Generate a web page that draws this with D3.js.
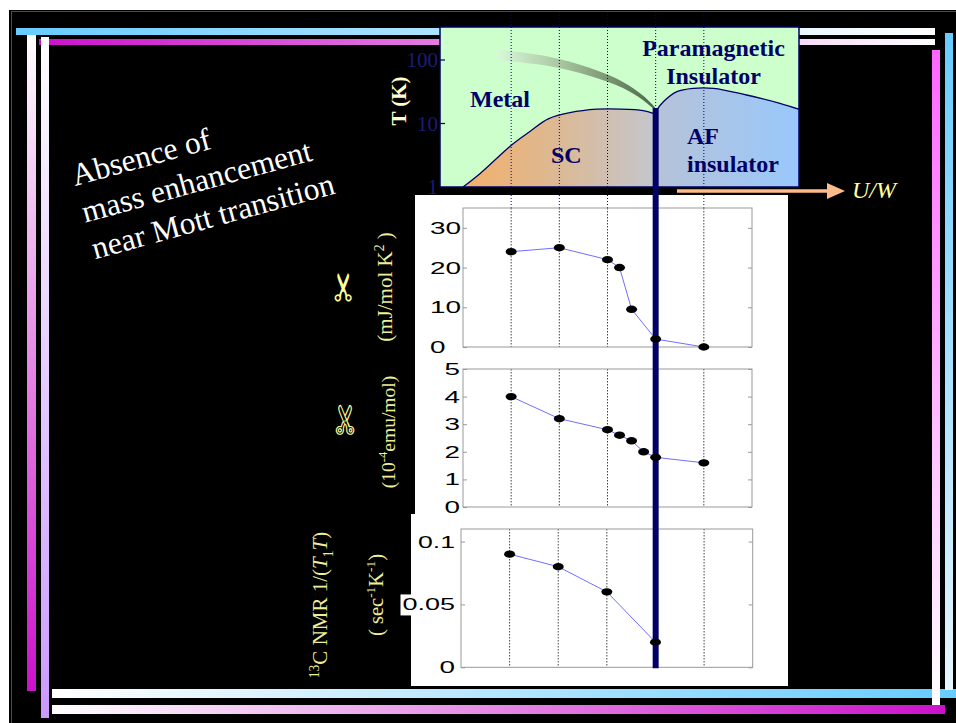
<!DOCTYPE html>
<html>
<head>
<meta charset="utf-8">
<script src="https://cdn.jsdelivr.net/npm/d3@7"></script>
<style>
  html, body { margin: 0; padding: 0; background: #fff; overflow: hidden; }
  svg { display: block; }
</style>
</head>
<body>
<svg id="chart" width="956" height="723"></svg>
<script>
// ---------------- data ----------------
// U/W positions of the measured samples (dotted guides) and the Mott transition
const gridX = [1, 2, 3, 4, 5];
const mottX = 4;

// phase diagram boundaries: x in U/W units, T in kelvin
const scX = [0, 0.35, 1.01, 1.39, 1.77, 2.22, 2.78, 3.26, 3.74, 3.95];
const scT = [1, 1.62, 4.6, 7.5, 11.8, 14.8, 16.8, 16.9, 16.0, 14.4];
const afX = [4.02, 4.16, 4.44, 4.78, 5.20, 5.89, 6.58, 6.98];
const afT = [16.3, 22.0, 31.7, 35.8, 35.8, 28.1, 20.8, 16.7];
const crossX = [0.71, 1.74, 2.64, 3.32, 3.74, 3.99];
const crossT = [120, 96.5, 64.7, 40.4, 25.2, 16.9];
const phaseTicks = [1, 10, 100];
const phaseTickLabels = ["1", "10", "100"];

// Sommerfeld coefficient (mJ/mol K^2)
const gammaX = [1, 2, 3, 3.25, 3.5, 4, 5];
const gammaY = [24, 25, 22, 20, 9.5, 2, 0];
const gammaTicks = [0, 10, 20, 30];
const gammaTickLabels = ["0", "10", "20", "30"];

// spin susceptibility (10^-4 emu/mol)
const chiX = [1, 2, 3, 3.25, 3.5, 3.75, 4, 5];
const chiY = [4.0, 3.2, 2.8, 2.6, 2.4, 2.0, 1.8, 1.6];
const chiTicks = [0, 1, 2, 3, 4, 5];
const chiTickLabels = ["0", "1", "2", "3", "4", "5"];

// 13C NMR relaxation 1/(T1 T) (sec^-1 K^-1)
const nmrX = [1, 2, 3, 4];
const nmrY = [0.09, 0.08, 0.06, 0.02];
const nmrTicks = [0, 0.05, 0.1];
const nmrTickLabels = ["0", "0.05", "0.1"];

// ---------------- drawing ----------------
const NAVY = "#000066";
const PALE = "#eeee99";
const svg = d3.select("#chart");
const defs = svg.append("defs");

function gradient(id, stops, x1, y1, x2, y2, user) {
  const g = defs.append("linearGradient").attr("id", id)
    .attr("x1", x1).attr("y1", y1).attr("x2", x2).attr("y2", y2);
  if (user) g.attr("gradientUnits", "userSpaceOnUse");
  stops.forEach(([o, c]) => g.append("stop").attr("offset", o).attr("stop-color", c));
  return `url(#${id})`;
}

// slide background and frame
svg.append("rect").attr("width", 956).attr("height", 723).attr("fill", "#fff");
svg.append("rect").attr("x", 9).attr("y", 10).attr("width", 947).attr("height", 713).attr("fill", "#000");
svg.append("rect").attr("x", 11.5).attr("y", 11.5).attr("width", 960).attr("height", 730)
  .attr("fill", "none").attr("stroke", "#4a4a4a");

const bars = [
  // [x, y, w, h, colour0, colour1, vertical]
  [16, 28, 919, 7, "#66ccff", "#ffffff", false],
  [39, 39, 896, 6, "#cc11cc", "#ffffff", false],
  [27, 35, 9, 656, "#ffffff", "#cc11cc", true],
  [41, 37, 8, 681, "#ffffff", "#cc99ff", true],
  [52, 689, 904, 9, "#ffffff", "#66ccff", false],
  [52, 705, 893, 9, "#ffffff", "#cc11cc", false],
  [932, 50, 8, 655, "#ff66ff", "#ffffff", true],
  [945, 33, 8, 657, "#66ccff", "#e8f6ff", true]
];
bars.forEach((b, i) => {
  const fill = gradient("bar" + i, [[0, b[4]], [1, b[5]]], 0, 0, b[6] ? 0 : 1, b[6] ? 1 : 0, false);
  svg.append("rect").attr("x", b[0]).attr("y", b[1]).attr("width", b[2]).attr("height", b[3]).attr("fill", fill);
});

// slanted caption
const cap = svg.append("text")
  .attr("transform", "translate(75,186) rotate(-15.3)")
  .attr("font-family", "Liberation Serif, Times New Roman, serif")
  .attr("font-size", 31.5).attr("fill", "#fff");
["Absence of", "mass enhancement", "near Mott transition"].forEach((t, i) =>
  cap.append("tspan").attr("x", 0).attr("dy", i ? 38 : 0).text(t));

// white backing for the three data panels
svg.append("rect").attr("x", 415).attr("y", 195).attr("width", 373).attr("height", 320).attr("fill", "#fff");
svg.append("rect").attr("x", 411).attr("y", 514).attr("width", 377).attr("height", 172).attr("fill", "#fff");

// ---------------- phase diagram ----------------
const xs = d3.scaleLinear().domain([0, 6]).range([463, 752]);
const yT = d3.scaleLog().domain([1, 100]).range([187, 60]);
const box = { x0: 440, x1: 799, y0: 27, y1: 187 };

defs.append("clipPath").attr("id", "phaseClip").append("rect")
  .attr("x", box.x0).attr("y", box.y0).attr("width", box.x1 - box.x0).attr("height", box.y1 - box.y0);

const phase = svg.append("g").attr("clip-path", "url(#phaseClip)");
phase.append("rect").attr("x", box.x0).attr("y", box.y0)
  .attr("width", box.x1 - box.x0).attr("height", box.y1 - box.y0).attr("fill", "#ccffcc");

const curve = d3.curveCatmullRom.alpha(0.5);
const scPts = scX.map((x, i) => [x, scT[i]]);
const afPts = afX.map((x, i) => [x, afT[i]]);
const area = d3.area().x(d => xs(d[0])).y0(yT(1)).y1(d => yT(d[1])).curve(curve);
const edge = d3.line().x(d => xs(d[0])).y(d => yT(d[1])).curve(curve);

const scFill = gradient("scFill", [[0, "#f3b06a"], [0.5, "#dcb994"], [1, "#c4c6cc"]],
  xs(scX[0]), 0, xs(scX[scX.length - 1]), 0, true);
const afFill = gradient("afFill", [[0, "#b6c2d8"], [1, "#98c8fb"]],
  xs(afX[0]), 0, xs(afX[afX.length - 1]), 0, true);

phase.append("path").attr("d", area(scPts)).attr("fill", scFill);
phase.append("path").attr("d", edge(scPts)).attr("fill", "none").attr("stroke", NAVY).attr("stroke-width", 1.3);
phase.append("path").attr("d", area(afPts)).attr("fill", afFill);
phase.append("path").attr("d", edge(afPts)).attr("fill", "none").attr("stroke", NAVY).attr("stroke-width", 1.3);

// crossover band, tapering towards the critical end point
const crossPts = crossX.map((x, i) => ({ x, t: crossT[i], w: 11 - 8 * i / (crossX.length - 1) }));
const band = d3.area().x(d => xs(d.x)).y0(d => yT(d.t) - d.w / 2).y1(d => yT(d.t) + d.w / 2).curve(curve);
const bandFill = gradient("bandFill", [[0, "#d8f8d8"], [0.4, "#a9c6a2"], [1, "#4c6646"]],
  xs(crossX[0]), 0, xs(crossX[crossX.length - 1]), 0, true);
phase.append("path").attr("d", band(crossPts)).attr("fill", bandFill);

// dotted guides running from the top of the slide into the first panel
svg.append("g").selectAll("line").data(gridX).join("line")
  .attr("x1", d => xs(d)).attr("x2", d => xs(d))
  .attr("y1", 12).attr("y2", 208)
  .attr("stroke", "#000080").attr("stroke-width", 1).attr("stroke-dasharray", "1,2");

svg.append("rect").attr("x", box.x0).attr("y", box.y0)
  .attr("width", box.x1 - box.x0).attr("height", box.y1 - box.y0)
  .attr("fill", "none").attr("stroke", NAVY).attr("stroke-width", 1.5);

// temperature axis
svg.append("g").selectAll("line").data(phaseTicks.slice(1)).join("line")
  .attr("x1", box.x0).attr("x2", box.x0 + 5)
  .attr("y1", d => yT(d)).attr("y2", d => yT(d))
  .attr("stroke", NAVY).attr("stroke-width", 1.2);
svg.append("g").selectAll("text").data(phaseTicks).join("text")
  .attr("x", box.x0 - 2).attr("y", d => yT(d) + 7)
  .attr("text-anchor", "end")
  .attr("font-family", "Liberation Serif, serif").attr("font-size", 21)
  .attr("fill", "#1c1c78")
  .text((d, i) => phaseTickLabels[i]);
svg.append("text").attr("transform", "translate(406,101) rotate(-90)")
  .attr("text-anchor", "middle")
  .attr("font-family", "Liberation Serif, serif").attr("font-weight", "bold").attr("font-size", 21)
  .attr("fill", "#ffffcc").text("T  (K)");

// region names
const regionFont = sel => sel.attr("font-family", "Liberation Serif, Times New Roman, serif")
  .attr("font-weight", "bold").attr("font-size", 24).attr("fill", NAVY);
[["Paramagnetic", 713.5, 56, "middle"], ["Insulator", 713.5, 84, "middle"],
 ["Metal", 470, 107, "start"], ["SC", 551, 163, "start"],
 ["AF", 687, 144, "start"], ["insulator", 687, 172, "start"]]
  .forEach(([t, x, y, a]) =>
    svg.append("text").attr("x", x).attr("y", y).attr("text-anchor", a).call(regionFont).text(t));

// U/W arrow
const ARROW = "#ffbb88";
svg.append("line").attr("x1", 677).attr("x2", 830).attr("y1", 191).attr("y2", 191)
  .attr("stroke", ARROW).attr("stroke-width", 3.5);
svg.append("path").attr("d", "M827,183 L845,191 L827,199 Z").attr("fill", ARROW);
svg.append("text").attr("x", 852).attr("y", 198)
  .attr("font-family", "Liberation Serif, serif").attr("font-style", "italic").attr("font-size", 24)
  .attr("fill", "#ffff99").text("U/W");

// ---------------- data panels ----------------
const panels = [
  { x0: 463, x1: 752, y0: 208, y1: 347, domain: [0, 35], ticks: gammaTicks, labels: gammaTickLabels,
    xv: gammaX, yv: gammaY, anchor: "start", lx: -33 },
  { x0: 463, x1: 752, y0: 369, y1: 507, domain: [0, 5], ticks: chiTicks, labels: chiTickLabels,
    xv: chiX, yv: chiY, anchor: "end", lx: -3 },
  { x0: 461, x1: 752.7, y0: 529, y1: 667.3, domain: [0, 0.11], ticks: nmrTicks, labels: nmrTickLabels,
    xv: nmrX, yv: nmrY, anchor: "end", lx: -6, labelBg: true }
];

const panelLayer = svg.append("g");
const mottLayer = svg.append("g");
const dotLayer = svg.append("g");
const GRAY = "#999";

const labelWidth = s => s.split("").reduce((a, c) => a + (c === "." ? 6 : 15.5), 0);

panels.forEach(p => {
  const x = d3.scaleLinear().domain([0, 6]).range([p.x0, p.x1]);
  const y = d3.scaleLinear().domain(p.domain).range([p.y1, p.y0]);
  const g = panelLayer.append("g");

  g.append("g").selectAll("line").data(gridX).join("line")
    .attr("x1", d => x(d)).attr("x2", d => x(d)).attr("y1", p.y0).attr("y2", p.y1)
    .attr("stroke", "#444").attr("stroke-width", 1).attr("stroke-dasharray", "1.5,1.5");

  g.append("rect").attr("x", p.x0).attr("y", p.y0).attr("width", p.x1 - p.x0).attr("height", p.y1 - p.y0)
    .attr("fill", "none").attr("stroke", GRAY).attr("stroke-width", 1);

  // inward ticks on both sides
  g.append("g").attr("transform", `translate(${p.x0},0)`)
    .call(d3.axisRight(y).tickValues(p.ticks).tickSize(4).tickFormat(""))
    .call(a => a.select(".domain").remove())
    .call(a => a.selectAll("line").attr("stroke", GRAY));
  g.append("g").attr("transform", `translate(${p.x1},0)`)
    .call(d3.axisLeft(y).tickValues(p.ticks).tickSize(4).tickFormat(""))
    .call(a => a.select(".domain").remove())
    .call(a => a.selectAll("line").attr("stroke", GRAY));

  const labels = g.append("g").selectAll("text").data(p.ticks).join("text")
    .attr("x", p.x0 + p.lx).attr("y", d => y(d) + 6)
    .attr("text-anchor", p.anchor)
    .attr("font-family", "Liberation Sans, Arial, sans-serif").attr("font-size", 17)
    .attr("fill", "#000")
    .attr("lengthAdjust", "spacingAndGlyphs")
    .attr("textLength", (d, i) => labelWidth(p.labels[i]))
    .text((d, i) => p.labels[i]);

  if (p.labelBg) {
    labels.each(function () {
      const b = this.getBBox();
      g.insert("rect", ":first-child").attr("x", b.x - 2).attr("y", b.y - 1)
        .attr("width", b.width + 4).attr("height", b.height + 2).attr("fill", "#fff");
    });
  }

  const pts = p.xv.map((v, i) => [v, p.yv[i]]);
  g.append("path").attr("d", d3.line().x(d => x(d[0])).y(d => y(d[1]))(pts))
    .attr("fill", "none").attr("stroke", "#6f6fff").attr("stroke-width", 1);

  dotLayer.append("g").selectAll("ellipse").data(pts).join("ellipse")
    .attr("cx", d => x(d[0])).attr("cy", d => y(d[1]))
    .attr("rx", 5.5).attr("ry", 3.7).attr("fill", "#000");
});

// Mott transition line from the phase diagram down through every panel
const last = panels[panels.length - 1];
mottLayer.append("line")
  .attr("x1", xs(mottX)).attr("x2", xs(mottX))
  .attr("y1", yT(afT[0]) - 2).attr("y2", last.y1 + 1)
  .attr("stroke", NAVY).attr("stroke-width", 6);

// ---------------- panel axis titles ----------------
function richLabel(cx, cy, size, parts, extra) {
  const t = svg.append("text")
    .attr("transform", `translate(${cx + size * 0.35},${cy}) rotate(-90)`)
    .attr("text-anchor", "middle")
    .attr("font-family", "Liberation Serif, Times New Roman, serif")
    .attr("font-size", size).attr("fill", PALE);
  if (extra) extra(t);
  let shift = 0;
  parts.forEach(p => {
    const s = t.append("tspan").text(p.t);
    let target = 0;
    if (p.sup) { target = -size * 0.4; s.attr("font-size", size * 0.65); }
    if (p.sub) { target = size * 0.25; s.attr("font-size", size * 0.65); }
    if (p.it) s.attr("font-style", "italic");
    if (target !== shift) { s.attr("dy", target - shift); shift = target; }
  });
  return t;
}

// symbols for gamma and chi
richLabel(344, 287, 38, [{ t: "✂" }], t => t.attr("font-family", "DejaVu Sans, sans-serif").attr("fill", "#ffff99"));
richLabel(346, 420, 38, [{ t: "✄" }], t => t.attr("font-family", "DejaVu Sans, sans-serif").attr("fill", "#ffff99"));

richLabel(385, 287, 21, [{ t: "(mJ/mol K" }, { t: "2", sup: true }, { t: " )" }]);
richLabel(388, 432, 19.5, [{ t: "(10" }, { t: "-4", sup: true }, { t: "emu/mol)" }]);
richLabel(320, 605, 21, [{ t: "13", sup: true }, { t: "C NMR 1/(" }, { t: "T", it: true },
  { t: "1", sub: true }, { t: "T", it: true }, { t: ")" }]);
richLabel(376, 595, 20.5, [{ t: "( sec" }, { t: "-1", sup: true }, { t: "K" }, { t: "-1", sup: true }, { t: ")" }]);
</script>
</body>
</html>
